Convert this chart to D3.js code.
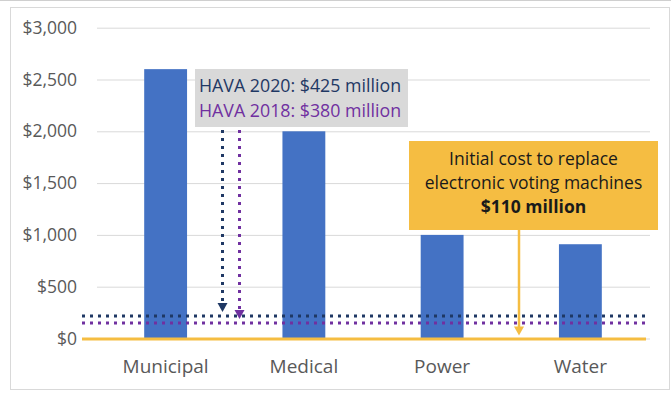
<!DOCTYPE html>
<html>
<head>
<meta charset="utf-8">
<script src="https://cdn.jsdelivr.net/npm/d3@7"></script>
<style>
  body { margin: 0; background: #fff; }
  svg { display: block; }
  text { font-family: "Open Sans", sans-serif; }
</style>
</head>
<body>
<svg id="chart" width="671" height="393"></svg>
<script>
// values
const categories = ["Municipal", "Medical", "Power", "Water"];
const costs = [2600, 2000, 1000, 910];
const yTicks = [0, 500, 1000, 1500, 2000, 2500, 3000];
const havaLabels = ["HAVA 2020: $425 million", "HAVA 2018: $380 million"];
const havaLevels = [217, 150];
const replaceLabels = ["Initial cost to replace", "electronic voting machines", "$110 million"];
const replaceLevel = 0;

const svg = d3.select("#chart");

const x = d3.scaleBand()
  .domain(categories)
  .range([96.5, 649.5])
  .paddingInner(0.69)
  .paddingOuter(0.345);

const y = d3.scaleLinear()
  .domain([0, 3000])
  .range([338.5, 27.7]);

// outer frame
svg.append("line")
  .attr("x1", 0).attr("x2", 671).attr("y1", 0.5).attr("y2", 0.5)
  .attr("stroke", "#cfcfcf");
svg.append("rect")
  .attr("x", 10.5).attr("y", 7.5).attr("width", 659).attr("height", 382)
  .attr("fill", "none").attr("stroke", "#d9d9d9");

// y axis + gridlines
const yAxis = d3.axisLeft(y)
  .tickValues(yTicks)
  .tickSize(-553)
  .tickPadding(20)
  .tickFormat(d => "$" + d3.format(",")(d));

const gy = svg.append("g")
  .attr("transform", "translate(97,0)")
  .call(yAxis);
gy.select(".domain").remove();
gy.selectAll("line").attr("stroke", "#d9d9d9");
gy.selectAll("text")
  .attr("fill", "#595959")
  .style("font-size", "17.5px");

// bars
svg.selectAll(".bar")
  .data(categories)
  .enter()
  .append("rect")
  .attr("class", "bar")
  .attr("x", d => x(d))
  .attr("width", x.bandwidth())
  .attr("y", (d, i) => y(costs[i]))
  .attr("height", (d, i) => y(0) - y(costs[i]))
  .attr("fill", "#4472c4");

// x labels
svg.selectAll(".xlab")
  .data(categories)
  .enter()
  .append("text")
  .attr("class", "xlab")
  .attr("x", d => x(d) + x.bandwidth() / 2)
  .attr("y", 373)
  .attr("text-anchor", "middle")
  .attr("fill", "#595959")
  .style("font-size", "19px")
  .text(d => d);

// HAVA dotted levels
const havaColors = ["#1f3864", "#7030a0"];
svg.selectAll(".hava")
  .data(havaLevels)
  .enter()
  .append("line")
  .attr("class", "hava")
  .attr("x1", 82).attr("x2", 648)
  .attr("y1", d => y(d)).attr("y2", d => y(d))
  .attr("stroke", (d, i) => havaColors[i])
  .attr("stroke-width", 3)
  .attr("stroke-dasharray", "3,5");

// replacement cost line
svg.append("line")
  .attr("x1", 82).attr("x2", 646)
  .attr("y1", y(replaceLevel) + 0.5).attr("y2", y(replaceLevel) + 0.5)
  .attr("stroke", "#f5bd42")
  .attr("stroke-width", 3);

// dotted arrows from HAVA box
const arrowX = [222.5, 239.5];
havaLevels.forEach((v, i) => {
  const tip = y(v) - 4;
  svg.append("line")
    .attr("x1", arrowX[i]).attr("x2", arrowX[i])
    .attr("y1", 130).attr("y2", tip - 9)
    .attr("stroke", havaColors[i])
    .attr("stroke-width", 3)
    .attr("stroke-dasharray", "3,5");
  svg.append("path")
    .attr("d", `M${arrowX[i] - 5},${tip - 9}L${arrowX[i] + 5},${tip - 9}L${arrowX[i]},${tip}Z`)
    .attr("fill", havaColors[i]);
});

// HAVA box
svg.append("rect")
  .attr("x", 195).attr("y", 69).attr("width", 213).attr("height", 58)
  .attr("fill", "#d9d9d9");
havaLabels.forEach((t, i) => {
  svg.append("text")
    .attr("x", 199)
    .attr("y", 92 + i * 25)
    .attr("fill", havaColors[i])
    .style("font-size", "17.8px")
    .text(t);
});

// yellow arrow
const ax = 519;
const atip = y(replaceLevel) - 3;
svg.append("line")
  .attr("x1", ax).attr("x2", ax)
  .attr("y1", 230).attr("y2", atip - 8)
  .attr("stroke", "#f5bd42")
  .attr("stroke-width", 2.5);
svg.append("path")
  .attr("d", `M${ax - 5},${atip - 9}L${ax + 5},${atip - 9}L${ax},${atip}Z`)
  .attr("fill", "#f5bd42");

// yellow box
svg.append("rect")
  .attr("x", 409).attr("y", 141).attr("width", 249).attr("height", 89)
  .attr("fill", "#f5bd42");
replaceLabels.forEach((t, i) => {
  svg.append("text")
    .attr("x", 533.5)
    .attr("y", 165 + i * 24)
    .attr("text-anchor", "middle")
    .attr("fill", "#1a1a1a")
    .style("font-size", "17.5px")
    .style("font-weight", i === 2 ? "bold" : "normal")
    .text(t);
});
</script>
</body>
</html>
